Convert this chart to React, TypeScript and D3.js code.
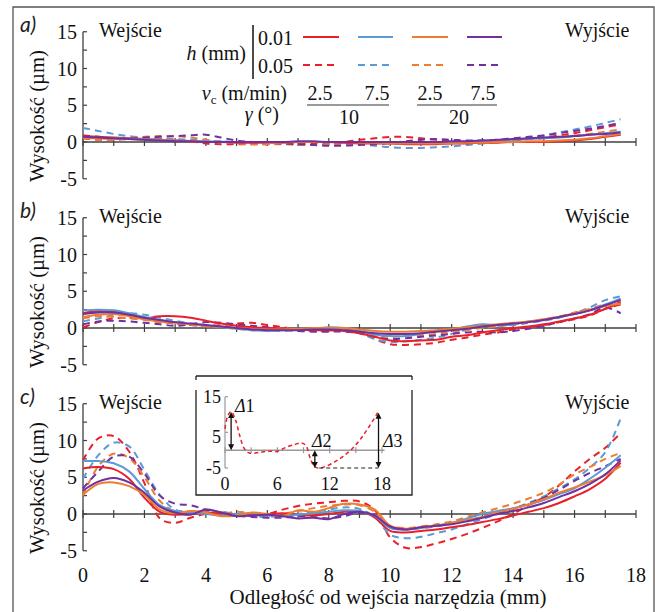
import React from 'react';
import * as d3 from 'd3';

const X_VALUES = [0,0.5,1,1.5,2,2.5,3,3.5,4,4.5,5,5.5,6,6.5,7,7.5,8,8.5,9,9.5,10,10.5,11,11.5,12,12.5,13,13.5,14,14.5,15,15.5,16,16.5,17,17.5];
const SERIES_COLORS = ['#e8202a', '#5b9bd5', '#ed7d31', '#7030a0'];
const X_TICK_LABELS = [0, 2, 4, 6, 8, 10, 12, 14, 16, 18];
const Y_TICK_LABELS = [15, 10, 5, 0, -5];

// Panel a
const A_RED_SOLID = [0.8,0.7,0.6,0.5,0.4,0.3,0.2,0.1,0,0,-0.1,-0.1,-0.1,-0.1,0,0,0,-0.1,-0.2,-0.2,-0.2,-0.3,-0.3,-0.3,-0.2,-0.2,-0.1,-0.1,0,0,0,0.1,0.2,0.4,0.7,1.0];
const A_BLUE_SOLID = [0.6,0.55,0.5,0.45,0.4,0.3,0.2,0.15,0.1,0.05,0,0,0,0,0,0,0,0,0,0,-0.1,-0.1,-0.1,-0.1,0,0,0.1,0.2,0.3,0.4,0.5,0.6,0.8,1.0,1.2,1.4];
const A_ORANGE_SOLID = [0.5,0.5,0.4,0.4,0.3,0.3,0.2,0.1,0,0,0,0,-0.1,-0.1,0,0,0,0,-0.1,-0.1,-0.2,-0.2,-0.2,-0.2,-0.2,-0.1,-0.1,0,0,0.1,0.1,0.2,0.3,0.5,0.8,1.1];
const A_PURPLE_SOLID = [0.7,0.6,0.5,0.4,0.3,0.2,0.1,0.1,0,0,0,0,0,0,0.1,0.1,0,0,0,0,0,0,0,0,0.1,0.1,0.2,0.3,0.4,0.5,0.6,0.7,0.8,1.0,1.1,1.3];
const A_RED_DASHED = [0.5,0.3,0.3,0.4,0.5,0.4,0.3,0.1,-0.2,-0.3,-0.3,-0.3,-0.3,-0.2,-0.3,-0.2,-0.1,0,0.3,0.5,0.7,0.7,0.5,0.3,0.1,0,0,0,0.2,0.4,0.6,0.9,1.2,1.6,2.0,2.4];
const A_BLUE_DASHED = [1.9,1.5,1.1,0.8,0.6,0.5,0.4,0.3,0.2,0.1,0,0,0,0,0,0,0,-0.1,-0.3,-0.5,-0.7,-0.8,-0.8,-0.7,-0.6,-0.4,-0.2,0,0.3,0.6,0.9,1.3,1.7,2.1,2.6,3.1];
const A_ORANGE_DASHED = [0.6,0.3,0.3,0.5,0.7,0.8,0.8,0.6,0.3,0,-0.2,-0.3,-0.3,-0.3,-0.4,-0.4,-0.3,-0.3,-0.3,-0.2,-0.2,-0.2,-0.1,-0.1,0,0,0.1,0.2,0.3,0.4,0.5,0.7,0.9,1.1,1.4,1.7];
const A_PURPLE_DASHED = [0.9,0.7,0.5,0.5,0.6,0.7,0.8,0.9,1.0,0.6,0.2,0,-0.1,-0.2,-0.3,-0.4,-0.5,-0.5,-0.4,-0.3,-0.1,0.1,0.3,0.4,0.3,0.2,0.2,0.3,0.5,0.7,0.9,1.2,1.5,1.8,2.2,2.6];

// Panel b
const B_RED_SOLID = [2.0,2.3,2.2,1.8,1.3,1.6,1.6,1.4,1.0,0.6,0.3,0.1,0,-0.1,-0.2,-0.3,-0.3,-0.4,-0.7,-1.2,-1.7,-1.8,-1.7,-1.6,-1.2,-1.0,-0.6,-0.3,0,0.2,0.5,0.9,1.3,1.8,2.6,3.5];
const B_BLUE_SOLID = [2.4,2.5,2.4,2.0,1.5,1.1,0.8,0.5,0.3,0.1,-0.1,-0.3,-0.4,-0.3,-0.2,-0.1,0.1,0,-0.4,-0.9,-1.1,-1.1,-0.8,-0.4,-0.2,0.2,0.5,0.4,0.5,0.9,1.1,1.5,1.9,2.4,3.2,4.0];
const B_ORANGE_SOLID = [1.5,1.8,1.9,1.6,1.2,0.9,0.7,0.5,0.3,0.2,0,-0.1,-0.2,-0.2,-0.1,0,0,0,-0.2,-0.4,-0.5,-0.5,-0.4,-0.3,-0.1,0.1,0.3,0.5,0.7,0.9,1.2,1.5,2.0,2.5,3.0,3.3];
const B_PURPLE_SOLID = [1.9,2.1,2.1,1.8,1.4,1.1,0.8,0.6,0.4,0.2,0,-0.2,-0.3,-0.3,-0.3,-0.2,-0.2,-0.3,-0.5,-0.7,-0.8,-0.8,-0.7,-0.5,-0.3,-0.1,0.2,0.4,0.6,0.8,1.1,1.5,1.9,2.4,3.1,3.8];
const B_RED_DASHED = [0.1,0.8,1.3,1.4,1.2,0.9,0.6,0.4,0.3,0.4,0.6,0.7,0.4,0.1,-0.2,-0.4,-0.3,-0.2,-0.6,-1.5,-2.2,-2.3,-2.2,-2.0,-1.6,-1.3,-0.9,-0.6,-0.2,0.1,0.4,0.8,1.2,1.7,2.6,3.2];
const B_BLUE_DASHED = [0.9,1.3,1.7,2.0,1.8,1.4,1.0,0.6,0.3,0.1,0,-0.2,-0.3,-0.4,-0.3,-0.2,0,-0.2,-0.7,-1.5,-1.9,-1.8,-1.6,-1.3,-0.8,-0.2,0.3,0.3,0.4,0.7,1.0,1.4,2.0,2.8,3.8,4.3];
const B_ORANGE_DASHED = [1.3,1.6,1.5,1.3,1.1,0.8,0.6,0.4,0.2,0.1,-0.1,-0.3,-0.2,0,-0.2,-0.4,-0.2,0,-0.4,-0.9,-1.2,-1.1,-1.0,-0.8,-0.5,-0.3,0,0.2,0.5,0.8,1.2,1.6,2.1,2.6,3.2,3.5];
const B_PURPLE_DASHED = [0.5,0.9,1.0,0.9,0.7,0.5,0.3,0.5,0.8,0.7,0.5,0.3,0.1,-0.2,-0.4,-0.5,-0.5,-0.5,-0.7,-1.2,-1.5,-1.4,-1.2,-1.0,-0.8,-0.6,-0.5,-0.6,-0.4,-0.1,0.3,0.8,1.3,1.9,2.8,2.0];

// Panel c
const C_RED_SOLID = [6.2,6.4,6.1,4.8,2.2,0.3,-0.1,0,0.2,0,-0.2,-0.1,0,0.1,-0.1,-0.2,0,0.3,0.4,-0.5,-2.3,-2.5,-2.3,-2.1,-1.8,-1.5,-1.1,-0.7,-0.2,0.3,0.8,1.5,2.4,3.4,4.8,7.0];
const C_BLUE_SOLID = [7.2,7.2,6.9,5.8,3.4,1.2,0.4,0.2,0,-0.2,0,0.1,-0.2,-0.3,-0.1,0.1,0.3,0.5,0.4,-0.3,-1.9,-2.1,-1.9,-1.6,-1.2,-0.6,0,0.4,0.8,1.3,1.9,2.7,3.5,4.8,6.3,8.0];
const C_ORANGE_SOLID = [2.6,4.1,4.3,3.8,2.6,0.6,0.1,0.4,0.2,-0.3,-0.2,0.2,0,-0.3,0.5,0.3,0.8,1.4,1.3,0.6,-1.6,-2.0,-1.8,-1.6,-1.2,-0.8,-0.4,0.2,0.7,1.3,2.0,2.9,3.6,4.4,5.3,6.5];
const C_PURPLE_SOLID = [3.2,4.4,4.9,4.3,2.9,1.0,0.2,-0.1,0.6,0.2,-0.3,-0.2,-0.1,-0.3,-0.6,-0.5,-0.7,0,0.3,-0.2,-1.7,-2.1,-1.8,-1.6,-1.4,-1.0,-0.5,0,0.4,0.9,1.5,2.3,3.1,4.1,5.4,7.3];
const C_RED_DASHED = [7.3,10.3,10.6,8.5,4.2,-0.6,-1.2,-0.5,0,0.2,0,-0.2,0,0.6,1.1,1.4,1.6,1.8,1.7,0.5,-3.2,-4.6,-4.5,-4.0,-3.4,-2.7,-1.9,-1.0,0,1.2,2.3,3.9,5.8,7.5,9.0,11.0];
const C_BLUE_DASHED = [4.8,8.0,9.7,9.2,6.0,2.6,0.6,0.3,0.2,0.3,0,-0.3,-0.4,-0.2,0,0.3,0.6,0.9,0.7,-0.4,-2.8,-3.3,-3.1,-2.6,-2.1,-1.4,-0.7,0,0.7,1.5,2.4,3.5,4.7,6.3,8.4,13.0];
const C_ORANGE_DASHED = [2.5,6.5,8.2,7.6,5.0,1.8,0.3,0.1,0.3,0,0.3,0.1,-0.2,0,0.4,0.8,1.1,1.3,1.2,0.3,-1.6,-1.9,-1.7,-1.4,-1.0,-0.4,0.2,0.8,1.4,2.1,2.9,4.0,5.4,6.4,7.5,8.3];
const C_PURPLE_DASHED = [3.5,5.8,7.8,7.8,5.5,2.5,1.4,1.2,0.6,0.2,-0.2,-0.4,-0.5,-0.5,-0.3,-0.4,-0.6,-0.3,0.2,-0.3,-1.8,-2.1,-1.9,-1.7,-1.3,-0.9,-0.4,0.1,0.7,1.4,2.2,3.3,4.5,5.6,6.5,7.5];

// Inset (schematic)
const INSET_X = [0,0.3,0.7,1.2,1.7,2.2,2.8,4,5,6,7,8,8.8,9.3,9.8,10.3,10.8,11.5,12.5,13.5,14.5,15.5,16.5,17.5];
const INSET_Y = [6,9.5,10.8,8.5,4,0.5,-0.8,-0.6,-0.3,-0.3,0.8,1.6,2,1.2,-2.5,-4.7,-5,-4.6,-3.4,-1.8,0.2,3,6.5,10.5];
const INSET_X_TICK_LABELS = [0, 6, 12, 18];
const INSET_Y_TICK_LABELS = [15, 5, -5];

const PANELS = [
  { label: 'a)', zero: 142, solid: [A_RED_SOLID, A_BLUE_SOLID, A_ORANGE_SOLID, A_PURPLE_SOLID], dashed: [A_RED_DASHED, A_BLUE_DASHED, A_ORANGE_DASHED, A_PURPLE_DASHED], xLabels: false },
  { label: 'b)', zero: 328, solid: [B_RED_SOLID, B_BLUE_SOLID, B_ORANGE_SOLID, B_PURPLE_SOLID], dashed: [B_RED_DASHED, B_BLUE_DASHED, B_ORANGE_DASHED, B_PURPLE_DASHED], xLabels: false },
  { label: 'c)', zero: 514, solid: [C_RED_SOLID, C_BLUE_SOLID, C_ORANGE_SOLID, C_PURPLE_SOLID], dashed: [C_RED_DASHED, C_BLUE_DASHED, C_ORANGE_DASHED, C_PURPLE_DASHED], xLabels: true },
];

const SERIF = "'Liberation Serif', 'Times New Roman', serif";
const AXIS = '#404040';

const x = d3.scaleLinear().domain([0, 18]).range([83, 636]);

function Panel({ p }: { p: typeof PANELS[number] }) {
  const y = d3.scaleLinear().domain([-5, 15]).range([p.zero + 36.75, p.zero - 110.25]);
  const line = d3.line<number>().x((_, i) => x(X_VALUES[i])).y((d) => y(d)).curve(d3.curveCatmullRom.alpha(0.5));
  const xTicks = d3.range(0, 19);
  const yTicks = [15, 12.5, 10, 7.5, 5, 2.5, 0, -2.5, -5];
  return (
    <g>
      {/* y axis */}
      <line x1={83} x2={83} y1={y(15)} y2={y(-5)} stroke={AXIS} strokeWidth={1.3} />
      {yTicks.map((t) => (
        <line key={t} x1={83} x2={87} y1={y(t)} y2={y(t)} stroke={AXIS} strokeWidth={1.2} />
      ))}
      {Y_TICK_LABELS.map((t) => (
        <text key={t} x={77} y={y(t)} dy="0.35em" textAnchor="end" fontFamily={SERIF} fontSize={20} fill="#111">{t}</text>
      ))}
      {/* x axis */}
      <line x1={x(0)} x2={x(18)} y1={y(0)} y2={y(0)} stroke={AXIS} strokeWidth={1.3} />
      {xTicks.map((t) => (
        <line key={t} x1={x(t)} x2={x(t)} y1={y(0) - 4} y2={y(0) + 4} stroke={AXIS} strokeWidth={1.2} />
      ))}
      {p.xLabels && X_TICK_LABELS.map((t) => (
        <text key={t} x={x(t)} y={582} textAnchor="middle" fontFamily={SERIF} fontSize={20} fill="#111">{t}</text>
      ))}
      {/* series */}
      {p.dashed.map((s, i) => (
        <path key={'d' + i} d={line(s) || ''} fill="none" stroke={SERIES_COLORS[i]} strokeWidth={2} strokeDasharray="7,5" />
      ))}
      {p.solid.map((s, i) => (
        <path key={'s' + i} d={line(s) || ''} fill="none" stroke={SERIES_COLORS[i]} strokeWidth={2} />
      ))}
      {/* labels */}
      <text x={20} y={p.zero - 110} fontFamily="Lato, 'Open Sans', sans-serif" fontStyle="italic" fontSize={21} fill="#222">{p.label}</text>
      <text x={99} y={p.zero - 105} fontFamily={SERIF} fontSize={20} fill="#111">Wejście</text>
      <text x={565} y={p.zero - 105} fontFamily={SERIF} fontSize={20} fill="#111">Wyjście</text>
      <text transform={`translate(44,${p.zero - 26}) rotate(-90)`} textAnchor="middle" fontFamily={SERIF} fontSize={20} fill="#111" textLength={132} lengthAdjust="spacingAndGlyphs">Wysokość (µm)</text>
    </g>
  );
}

function Legend() {
  const segs = [[303, 339], [358, 393], [412, 448], [467, 502]];
  return (
    <g fontFamily={SERIF} fontSize={20} fill="#111">
      <line x1={253} x2={253} y1={25} y2={79} stroke="#111" strokeWidth={1.5} />
      <text x={258} y={45}>0.01</text>
      <text x={258} y={73}>0.05</text>
      <text x={246} y={60} textAnchor="end"><tspan fontStyle="italic">h</tspan> (mm)</text>
      {segs.map((s, i) => (
        <g key={i}>
          <line x1={s[0]} x2={s[1]} y1={37} y2={37} stroke={SERIES_COLORS[i]} strokeWidth={2} />
          <line x1={s[0]} x2={s[1]} y1={65} y2={65} stroke={SERIES_COLORS[i]} strokeWidth={2} strokeDasharray="7,5" />
        </g>
      ))}
      <text x={287} y={100} textAnchor="end"><tspan fontStyle="italic">v</tspan><tspan fontSize={13} dy={4}>c</tspan><tspan dy={-4}> (m/min)</tspan></text>
      <text x={320} y={100} textAnchor="middle">2.5</text>
      <text x={377} y={100} textAnchor="middle">7.5</text>
      <text x={430} y={100} textAnchor="middle">2.5</text>
      <text x={483} y={100} textAnchor="middle">7.5</text>
      <line x1={307} x2={389} y1={105} y2={105} stroke="#9a9a9a" strokeWidth={2} />
      <line x1={417} x2={497} y1={105} y2={105} stroke="#9a9a9a" strokeWidth={2} />
      <text x={279} y={121} textAnchor="end"><tspan fontStyle="italic">γ</tspan> (°)</text>
      <text x={349} y={124} textAnchor="middle">10</text>
      <text x={459} y={124} textAnchor="middle">20</text>
    </g>
  );
}

function Inset() {
  const ix = d3.scaleLinear().domain([0, 18]).range([225, 382]);
  const iy = d3.scaleLinear().domain([-5, 15]).range([468, 396.7]);
  const line = d3.line<number>().x((_, i) => ix(INSET_X[i])).y((d) => iy(d)).curve(d3.curveCatmullRom.alpha(0.5));
  const ticks = [0, 3, 6, 9, 12, 15, 18];
  const arrow = (xv: number, a: number, b: number) => {
    const X = ix(xv), y1 = iy(a), y2 = iy(b);
    const dir = y2 > y1 ? 1 : -1;
    return (
      <g>
        <line x1={X} x2={X} y1={y1 + dir * 3} y2={y2 - dir * 3} stroke="#111" strokeWidth={1.3} />
        <path d={`M${X},${y1} l-3,${dir * 6} l6,0 z`} fill="#111" />
        <path d={`M${X},${y2} l-3,${-dir * 6} l6,0 z`} fill="#111" />
      </g>
    );
  };
  return (
    <g>
      <line x1={196} x2={412} y1={376} y2={376} stroke="#222" strokeWidth={1.3} />
      <line x1={196} x2={196} y1={376} y2={380} stroke="#222" strokeWidth={1.3} />
      <line x1={412} x2={412} y1={376} y2={380} stroke="#222" strokeWidth={1.3} />
      <path d="M196,390 V495 H412 V390" fill="none" stroke="#222" strokeWidth={1.3} />
      <line x1={225} x2={225} y1={iy(15)} y2={iy(-5)} stroke="#999" strokeWidth={1.2} />
      {[15, 5, -5].map((t) => (
        <line key={t} x1={225} x2={228} y1={iy(t)} y2={iy(t)} stroke="#999" strokeWidth={1.2} />
      ))}
      <line x1={ix(0)} x2={ix(18.3)} y1={iy(0)} y2={iy(0)} stroke="#999" strokeWidth={1.5} />
      {ticks.map((t) => (
        <line key={t} x1={ix(t)} x2={ix(t)} y1={iy(0) - 3} y2={iy(0) + 3} stroke="#999" strokeWidth={1.2} />
      ))}
      {INSET_Y_TICK_LABELS.map((t) => (
        <text key={t} x={221} y={iy(t)} dy={t === 5 ? '0.6em' : '0.35em'} textAnchor="end" fontFamily={SERIF} fontSize={18} fill="#111">{t}</text>
      ))}
      {INSET_X_TICK_LABELS.map((t) => (
        <text key={t} x={ix(t)} y={490} textAnchor="middle" fontFamily={SERIF} fontSize={18} fill="#111">{t}</text>
      ))}
      <path d={line(INSET_Y) || ''} fill="none" stroke="#e8202a" strokeWidth={1.5} strokeDasharray="4,3" />
      <line x1={ix(10.8)} x2={ix(17.6)} y1={iy(-5)} y2={iy(-5)} stroke="#222" strokeWidth={1.2} strokeDasharray="4,3" />
      {arrow(0.7, 0, 10.7)}
      {arrow(10.3, 0, -5)}
      {arrow(17.6, -5, 10.5)}
      <text x={235} y={412} fontFamily={SERIF} fontSize={18} fill="#111"><tspan fontStyle="italic">Δ</tspan>1</text>
      <text x={312} y={447} fontFamily={SERIF} fontSize={18} fill="#111"><tspan fontStyle="italic">Δ</tspan>2</text>
      <text x={383} y={447} fontFamily={SERIF} fontSize={18} fill="#111"><tspan fontStyle="italic">Δ</tspan>3</text>
    </g>
  );
}

export default function App() {
  return (
    <svg width={655} height={612} style={{ position: 'absolute', left: 0, top: 0, background: '#fff' }}>
      <rect x={0} y={0} width={655} height={612} fill="#fff" />
      <path d="M13,612 V7 H654 V612" fill="none" stroke="#555" strokeWidth={1.3} />
      {PANELS.map((p) => <Panel key={p.label} p={p} />)}
      <Legend />
      <Inset />
      <text x={388} y={604} textAnchor="middle" fontFamily={SERIF} fontSize={20} fill="#111" textLength={317} lengthAdjust="spacingAndGlyphs">Odległość od wejścia narzędzia (mm)</text>
    </svg>
  );
}
